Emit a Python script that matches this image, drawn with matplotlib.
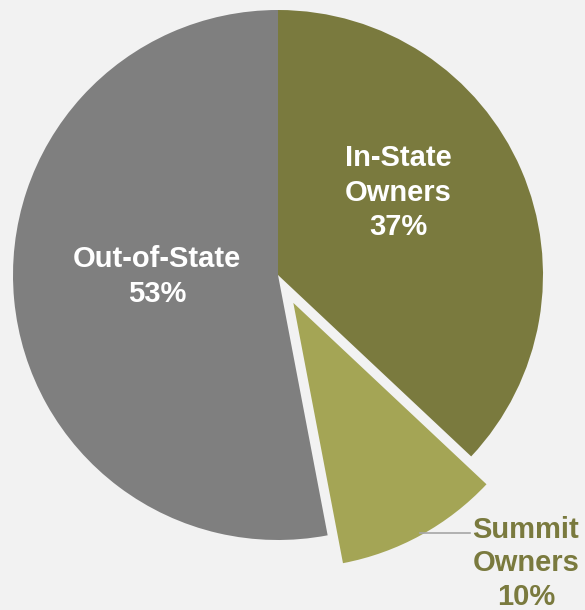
import matplotlib.pyplot as plt

labels = ['In-State\nOwners', 'Summit\nOwners', 'Out-of-State']
shares = [37, 10, 53]
colors = ['#7A7A3E', '#A4A555', '#7F7F7F']
explode = [0, 0.12, 0]

plt.rcParams['font.family'] = ['Liberation Sans', 'DejaVu Sans']

fig = plt.figure(figsize=(5.85, 6.1), dpi=100)
fig.patch.set_facecolor('#F2F2F2')
ax = fig.add_axes([13 / 585, 70 / 610, 530 / 585, 530 / 610])
ax.set_facecolor('#F2F2F2')

wedges, _ = ax.pie(shares, colors=colors, explode=explode, startangle=90,
                   counterclock=False, radius=1.0,
                   wedgeprops=dict(linewidth=0))
for w in wedges:
    w.set_clip_on(False)

ax.set_xlim(-1, 1)
ax.set_ylim(-1, 1)
ax.set_aspect('equal')
ax.axis('off')

# labels inside
ax.text(0.453, 0.310, f'{labels[0]}\n{shares[0]}%', ha='center', va='center',
        color='white', fontsize=21, fontweight='bold', linespacing=1.3)
ax.text(-0.457, -0.005, f'{labels[2]}\n{shares[2]}%', ha='center', va='center',
        color='white', fontsize=21, fontweight='bold', linespacing=1.3)

# summit label with leader line
ax.plot([0.536, 0.725], [-0.974, -0.974], color='#A6A6A6', lw=1.2, clip_on=False)
ax.text(0.936, -1.088, f'{labels[1]}\n{shares[1]}%', ha='center', va='center',
        color='#7A7A3E', fontsize=21, fontweight='bold', linespacing=1.25)

fig.savefig('out.png', dpi=100, facecolor=fig.get_facecolor())
